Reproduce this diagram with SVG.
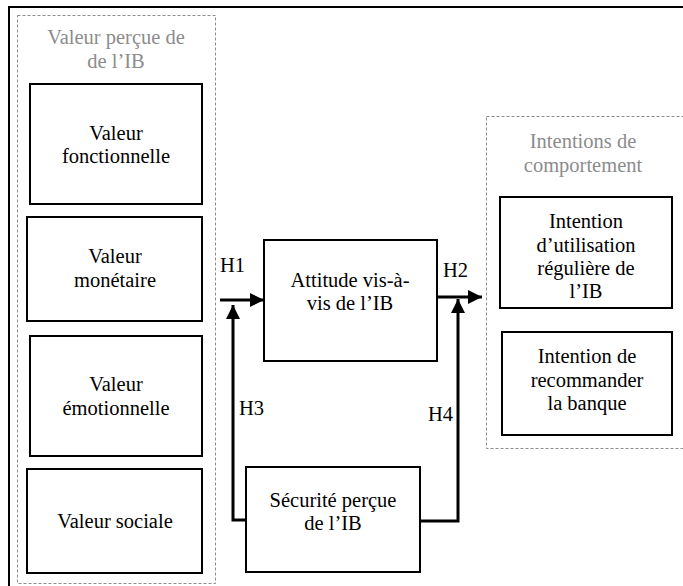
<svg xmlns="http://www.w3.org/2000/svg" width="683" height="586" viewBox="0 0 683 586">
<defs>
<style>
.box{fill:#fff;stroke:#000;stroke-width:2}
.grp{fill:none;stroke:#8c8c8c;stroke-width:1;stroke-dasharray:3,2}
.t{font-family:"Liberation Serif","Times New Roman",serif;font-size:20.5px;fill:#000;text-anchor:middle}
.g{fill:#8c8c8c}
.l{font-family:"Liberation Serif","Times New Roman",serif;font-size:20.5px;fill:#000}
.c{fill:none;stroke:#000;stroke-width:3}
</style>
<marker id="ah" viewBox="0 0 10 10" refX="10" refY="5" markerWidth="16" markerHeight="14" markerUnits="userSpaceOnUse" orient="auto">
<path d="M0,0 L10,5 L0,10 z" fill="#000"/>
</marker>
</defs>
<rect x="0" y="0" width="683" height="586" fill="#fff"/>
<rect id="frame" x="9" y="7" width="700" height="620" fill="none" stroke="#000" stroke-width="2"/>
<g id="valeur-percue">
<rect class="grp" x="17.5" y="15.5" width="198" height="568"/>
<text class="t g" x="116" y="44">Valeur perçue de</text>
<text class="t g" x="116" y="68">de l’IB</text>
</g>
<g id="intentions">
<rect class="grp" x="486.5" y="116.5" width="220" height="332"/>
<text class="t g" x="583" y="148">Intentions de</text>
<text class="t g" x="583" y="172">comportement</text>
</g>
<g id="fonctionnelle">
<rect class="box" x="30" y="84" width="172" height="120"/>
<text class="t" x="116" y="140">Valeur</text>
<text class="t" x="116" y="163">fonctionnelle</text>
</g>
<g id="monetaire">
<rect class="box" x="27" y="217" width="175" height="104"/>
<text class="t" x="115" y="263">Valeur</text>
<text class="t" x="115" y="287">monétaire</text>
</g>
<g id="emotionnelle">
<rect class="box" x="30" y="336" width="172" height="120"/>
<text class="t" x="116" y="391">Valeur</text>
<text class="t" x="116" y="415">émotionnelle</text>
</g>
<g id="sociale">
<rect class="box" x="27" y="469" width="175" height="104"/>
<text class="t" x="115" y="528">Valeur sociale</text>
</g>
<g id="attitude">
<rect class="box" x="264" y="240" width="173" height="121"/>
<text class="t" x="350" y="287">Attitude vis-à-</text>
<text class="t" x="350" y="310">vis de l’IB</text>
</g>
<g id="securite">
<rect class="box" x="246" y="467" width="174" height="105"/>
<text class="t" x="333" y="507">Sécurité perçue</text>
<text class="t" x="333" y="530">de l’IB</text>
</g>
<g id="utilisation">
<rect class="box" x="500" y="197" width="172" height="111"/>
<text class="t" x="586" y="228">Intention</text>
<text class="t" x="586" y="252">d’utilisation</text>
<text class="t" x="586" y="275">régulière de</text>
<text class="t" x="586" y="298">l’IB</text>
</g>
<g id="recommander">
<rect class="box" x="502" y="332" width="170" height="103"/>
<text class="t" x="587" y="363">Intention de</text>
<text class="t" x="587" y="387">recommander</text>
<text class="t" x="587" y="410">la banque</text>
</g>
<g id="connectors">
<path class="c" d="M220,300 H264" marker-end="url(#ah)"/>
<path class="c" d="M246,520 H233 V305" marker-end="url(#ah)"/>
<path class="c" d="M437,297 H482" marker-end="url(#ah)"/>
<path class="c" d="M420,521 H458 V299" marker-end="url(#ah)"/>
<text class="l" x="220" y="272">H1</text>
<text class="l" x="443" y="277">H2</text>
<text class="l" x="239" y="415">H3</text>
<text class="l" x="428" y="421">H4</text>
</g>
</svg>
